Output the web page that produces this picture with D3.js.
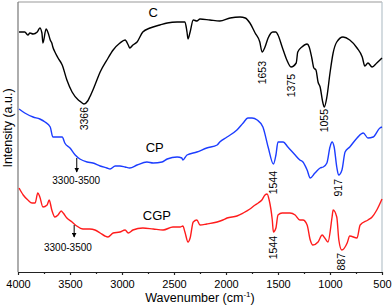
<!DOCTYPE html>
<html>
<head>
<meta charset="utf-8">
<script src="https://cdn.jsdelivr.net/npm/d3@7"></script>
<style>
  body { margin: 0; background: #fff; }
  text { font-family: "Liberation Sans", Arial, sans-serif; }
</style>
</head>
<body>
<div id="container"></div>
<script>
/* Spectre C : nombre d'onde (cm-1) et intensité (u.a.) */
const waveC = [3990, 3935, 3905, 3885, 3855, 3815, 3790, 3770, 3760, 3730, 3710, 3690, 3675, 3665, 3645, 3615, 3575, 3530, 3480, 3420, 3395, 3366, 3330, 3310, 3260, 3210, 3145, 3085, 3020, 2970, 2940, 2925, 2895, 2855, 2800, 2730, 2635, 2565, 2470, 2395, 2375, 2365, 2345, 2315, 2280, 2250, 2155, 2060, 1960, 1865, 1815, 1770, 1720, 1675, 1653, 1625, 1595, 1550, 1520, 1500, 1460, 1415, 1375, 1325, 1310, 1270, 1220, 1200, 1175, 1155, 1135, 1115, 1095, 1070, 1055, 1030, 1000, 970, 935, 875, 810, 740, 690, 665, 635, 595, 550, 500];
const intC = [2.40, 2.40, 2.37, 2.39, 2.38, 2.40, 2.44, 2.39, 2.29, 2.43, 2.39, 2.32, 2.29, 2.25, 2.20, 2.14, 2.07, 1.92, 1.80, 1.72, 1.70, 1.68, 1.71, 1.75, 1.87, 2.00, 2.12, 2.22, 2.29, 2.32, 2.27, 2.24, 2.27, 2.30, 2.40, 2.44, 2.47, 2.49, 2.50, 2.50, 2.40, 2.33, 2.40, 2.52, 2.51, 2.53, 2.52, 2.51, 2.54, 2.55, 2.54, 2.49, 2.39, 2.30, 2.20, 2.25, 2.34, 2.40, 2.40, 2.37, 2.25, 2.12, 2.05, 2.09, 2.20, 2.25, 2.28, 2.25, 2.14, 2.04, 2.02, 1.90, 1.85, 1.70, 1.65, 1.75, 1.99, 2.19, 2.30, 2.35, 2.32, 2.24, 2.15, 2.06, 2.09, 2.05, 2.09, 2.14];

/* Spectre CP */
const waveCP = [3990, 3935, 3855, 3790, 3740, 3690, 3665, 3625, 3575, 3550, 3500, 3450, 3405, 3335, 3280, 3210, 3145, 3115, 3065, 3020, 2970, 2925, 2855, 2760, 2700, 2615, 2565, 2470, 2425, 2415, 2375, 2280, 2185, 2085, 2060, 1990, 1895, 1835, 1790, 1750, 1700, 1645, 1595, 1544, 1520, 1500, 1450, 1405, 1335, 1290, 1260, 1220, 1190, 1145, 1095, 1065, 1030, 1000, 980, 960, 935, 917, 885, 855, 810, 740, 680, 635, 585, 520, 500];
const intCP = [1.63, 1.59, 1.55, 1.53, 1.50, 1.45, 1.35, 1.35, 1.35, 1.29, 1.24, 1.17, 1.13, 1.10, 1.09, 1.06, 1.04, 1.03, 1.06, 1.06, 1.05, 1.04, 1.07, 1.10, 1.09, 1.10, 1.13, 1.15, 1.14, 1.12, 1.17, 1.20, 1.24, 1.27, 1.30, 1.35, 1.42, 1.49, 1.54, 1.54, 1.52, 1.45, 1.25, 1.08, 1.17, 1.30, 1.30, 1.25, 1.17, 1.12, 1.10, 1.02, 0.94, 0.99, 1.04, 1.05, 1.09, 1.25, 1.30, 1.25, 1.05, 0.97, 1.02, 1.20, 1.25, 1.34, 1.39, 1.34, 1.35, 1.44, 1.45];

/* Spectre CGP */
const waveCGP = [3990, 3950, 3905, 3865, 3835, 3810, 3790, 3760, 3720, 3700, 3675, 3645, 3615, 3585, 3565, 3530, 3480, 3435, 3375, 3310, 3260, 3210, 3165, 3135, 3085, 3020, 2970, 2940, 2895, 2800, 2700, 2605, 2510, 2440, 2415, 2395, 2365, 2345, 2315, 2280, 2250, 2185, 2085, 2030, 1990, 1895, 1835, 1770, 1720, 1690, 1655, 1625, 1605, 1585, 1555, 1544, 1520, 1500, 1460, 1385, 1335, 1290, 1260, 1220, 1190, 1165, 1115, 1075, 1050, 1020, 980, 970, 935, 915, 887, 835, 810, 740, 710, 635, 595, 550, 500];
const intCGP = [0.84, 0.77, 0.72, 0.69, 0.69, 0.79, 0.75, 0.65, 0.67, 0.72, 0.62, 0.55, 0.57, 0.61, 0.59, 0.54, 0.50, 0.46, 0.43, 0.43, 0.42, 0.39, 0.36, 0.35, 0.39, 0.40, 0.42, 0.39, 0.42, 0.44, 0.43, 0.42, 0.45, 0.45, 0.46, 0.40, 0.30, 0.34, 0.50, 0.52, 0.47, 0.48, 0.50, 0.52, 0.54, 0.56, 0.59, 0.63, 0.67, 0.69, 0.72, 0.77, 0.78, 0.72, 0.52, 0.40, 0.44, 0.57, 0.59, 0.59, 0.57, 0.52, 0.52, 0.47, 0.32, 0.27, 0.30, 0.37, 0.34, 0.30, 0.55, 0.62, 0.55, 0.32, 0.22, 0.29, 0.36, 0.34, 0.47, 0.52, 0.55, 0.62, 0.73];

/* Graduations */
const majorTicks = [4000, 3500, 3000, 2500, 2000, 1500, 1000, 500];
const minorTicks = [3750, 3250, 2750, 2250, 1750, 1250, 750];

/* Annotations des pics (nombre d'onde, intensité du haut du texte) */
const peakWave = [3366, 1653, 1375, 1055, 1544, 917, 1544, 887];
const peakTop = [1.65, 2.11, 1.98, 1.63, 1.01, 0.93, 0.36, 0.19];

/* Noms des courbes */
const seriesNames = ["C", "CP", "CGP"];
const seriesColors = ["#000000", "#1c3dff", "#ff1c1c"];
const nameWave = [2700, 2685, 2665];
const nameInt = [2.60, 1.25, 0.57];

/* Bandes 3300-3500 avec flèche */
const bandText = ["3300-3500", "3300-3500"];
const bandTextWave = [3440, 3520];
const bandTextInt = [0.92, 0.25];
const arrowWave = [3435, 3460];
const arrowFrom = [1.14, 0.47];
const arrowTo = [1.00, 0.35];

const W = 392, H = 306;
const margin = {top: 2, right: 10, bottom: 34, left: 18};

const svg = d3.select("#container").append("svg")
	.attr("width", W)
	.attr("height", H);

const x = d3.scaleLinear().domain([4000, 500]).range([margin.left, W - margin.right]);
const y = d3.scaleLinear().domain([0, 2.7]).range([H - margin.bottom, margin.top]);

svg.append("defs").append("marker")
	.attr("id", "arrow")
	.attr("viewBox", "0 0 10 10")
	.attr("refX", 9).attr("refY", 5)
	.attr("markerWidth", 5).attr("markerHeight", 5)
	.attr("orient", "auto")
	.append("path")
		.attr("d", "M0,0 L10,5 L0,10 z")
		.attr("fill", "#000");

/* Cadre */
svg.append("line")
	.attr("x1", x(4000)).attr("x2", x(500))
	.attr("y1", y(2.7)).attr("y2", y(2.7))
	.style("stroke", "#999").style("stroke-width", 1);
svg.append("line")
	.attr("x1", x(500)).attr("x2", x(500))
	.attr("y1", y(2.7)).attr("y2", y(0))
	.style("stroke", "#b8c4cc").style("stroke-width", 1.2);
svg.append("line")
	.attr("x1", x(4000)).attr("x2", x(4000))
	.attr("y1", y(2.7)).attr("y2", y(0))
	.style("stroke", "#777").style("stroke-width", 1.2);

/* Axe des x */
const xAxis = svg.append("g")
	.attr("transform", "translate(0," + y(0) + ")")
	.call(d3.axisBottom(x).tickValues(majorTicks).tickSize(3).tickSizeOuter(0).tickPadding(5).tickFormat(d3.format("d")));
xAxis.select(".domain").style("stroke", "#222").style("stroke-width", 1.2);
xAxis.selectAll(".tick line").style("stroke", "#222").style("stroke-width", 1.2);
xAxis.selectAll("text").style("font-size", "11px").style("fill", "#000");

svg.append("g")
	.attr("transform", "translate(0," + y(0) + ")")
	.call(d3.axisBottom(x).tickValues(minorTicks).tickSize(2).tickFormat(""))
	.call(g => g.select(".domain").remove())
	.selectAll(".tick line").style("stroke", "#222").style("stroke-width", 1.2);

/* Titres des axes */
svg.append("text")
	.attr("x", 200).attr("y", 302)
	.style("font-size", "12.5px")
	.style("text-anchor", "middle")
	.text("Wavenumber (cm")
	.append("tspan").attr("dy", -5).style("font-size", "8px").text("-1")
	.select(function() { return this.parentNode; })
	.append("tspan").attr("dy", 5).text(")");

svg.append("text")
	.attr("transform", "translate(11.5,128) rotate(-90)")
	.style("font-size", "12.5px")
	.style("text-anchor", "middle")
	.text("Intensity (a.u.)");

/* Courbes */
const line = d3.line()
	.x(d => x(d[0]))
	.y(d => y(d[1]))
	.curve(d3.curveMonotoneX);

const series = [
	d3.zip(waveC, intC),
	d3.zip(waveCP, intCP),
	d3.zip(waveCGP, intCGP)
];

series.forEach(function(s, i) {
	svg.append("path")
		.datum(s)
		.attr("d", line)
		.style("fill", "none")
		.style("stroke", seriesColors[i])
		.style("stroke-width", 1.4)
		.style("stroke-linejoin", "round");
});

/* Noms des courbes */
svg.selectAll(".name")
	.data(seriesNames)
	.enter().append("text")
		.attr("class", "name")
		.attr("x", (d, i) => x(nameWave[i]))
		.attr("y", (d, i) => y(nameInt[i]))
		.attr("dy", "0.35em")
		.style("font-size", "13px")
		.style("text-anchor", "middle")
		.text(d => d);

/* Valeurs des pics */
svg.selectAll(".peak")
	.data(peakWave)
	.enter().append("text")
		.attr("class", "peak")
		.attr("transform", (d, i) => "translate(" + x(d) + "," + y(peakTop[i]) + ") rotate(-90)")
		.attr("dy", "0.35em")
		.style("font-size", "10.5px")
		.style("text-anchor", "end")
		.text(d => d);

/* Bandes 3300-3500 */
svg.selectAll(".band")
	.data(bandText)
	.enter().append("text")
		.attr("class", "band")
		.attr("x", (d, i) => x(bandTextWave[i]))
		.attr("y", (d, i) => y(bandTextInt[i]))
		.attr("dy", "0.35em")
		.style("font-size", "10px")
		.style("text-anchor", "middle")
		.text(d => d);

svg.selectAll(".arrow")
	.data(arrowWave)
	.enter().append("line")
		.attr("class", "arrow")
		.attr("x1", d => x(d)).attr("x2", d => x(d))
		.attr("y1", (d, i) => y(arrowFrom[i]))
		.attr("y2", (d, i) => y(arrowTo[i]))
		.style("stroke", "#000")
		.style("stroke-width", 1)
		.attr("marker-end", "url(#arrow)");
</script>
</body>
</html>
